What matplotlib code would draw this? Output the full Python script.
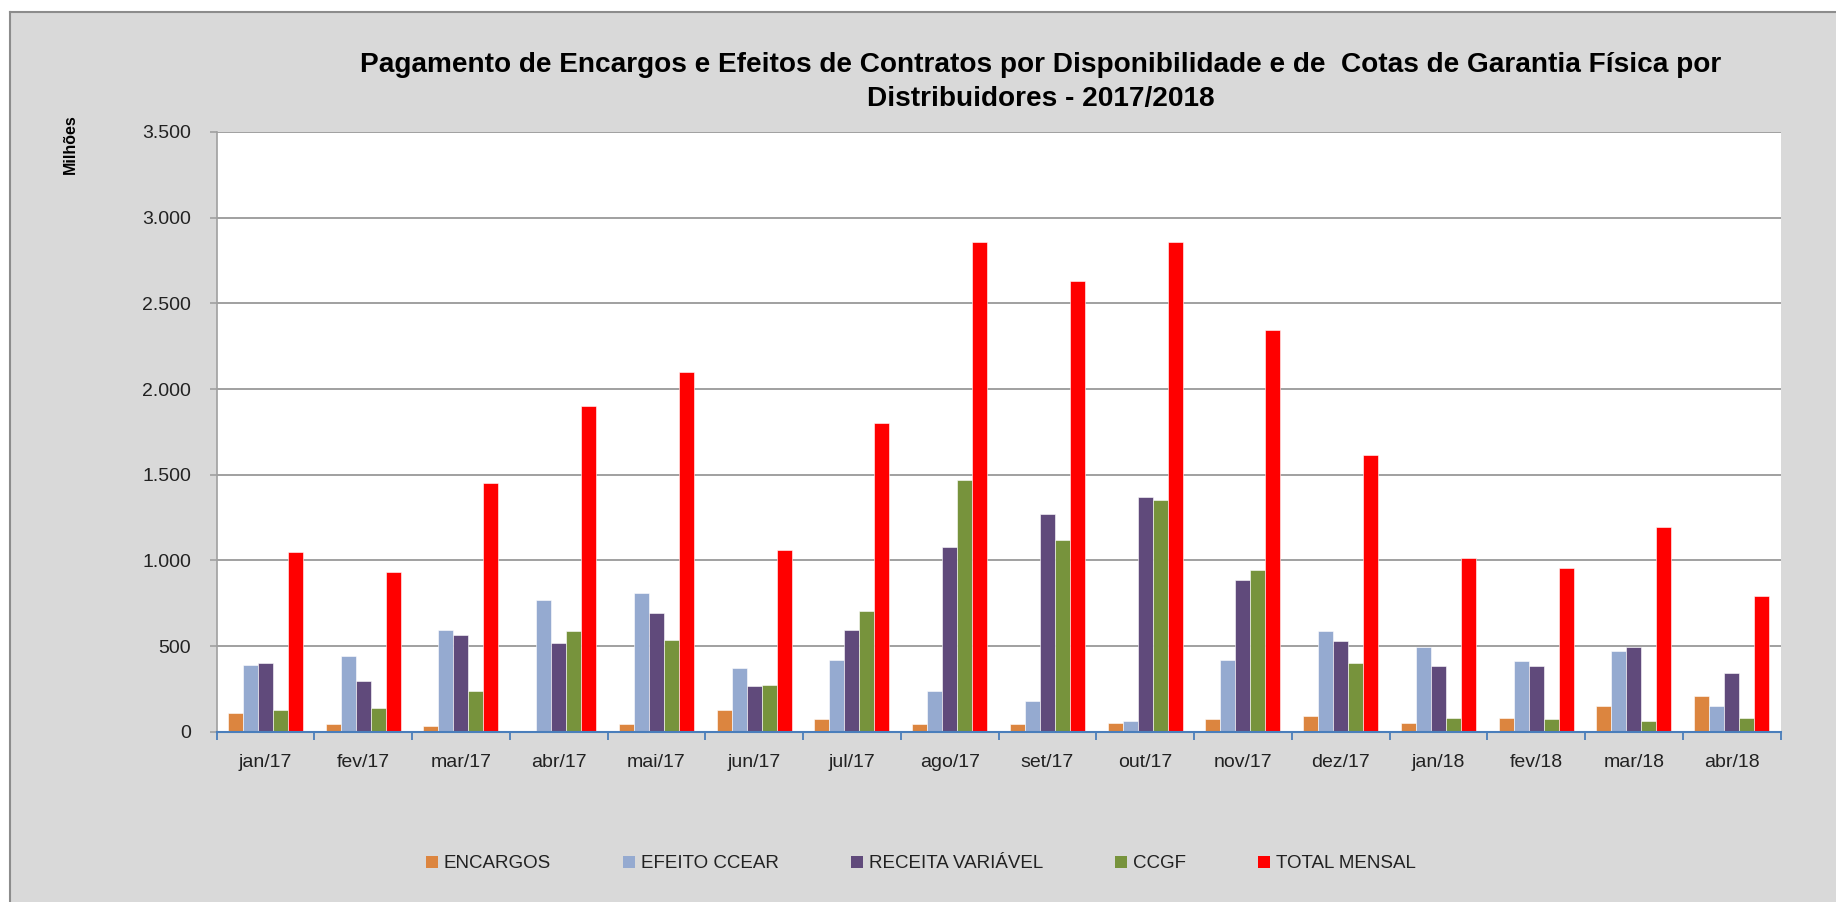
#!/usr/bin/env python
''' encargos e efeitos de contratos - distribuidores 2017/2018 '''
import matplotlib
matplotlib.use('Agg')
import matplotlib.pyplot as plt
from matplotlib import font_manager
from matplotlib.lines import Line2D
from matplotlib.patches import Rectangle, Patch
import numpy as np

months = ['jan/17', 'fev/17', 'mar/17', 'abr/17', 'mai/17', 'jun/17', 'jul/17',
          'ago/17', 'set/17', 'out/17', 'nov/17', 'dez/17', 'jan/18', 'fev/18',
          'mar/18', 'abr/18']
encargos = [109, 43, 33, 0, 43, 128, 72, 43, 43, 51, 72, 91, 51, 82, 150, 206]
efeito_ccear = [391, 440, 595, 768, 807, 372, 420, 236, 177, 61, 420, 586, 492,
                411, 469, 150]
receita_variavel = [399, 294, 566, 516, 691, 265, 595, 1079, 1272, 1371, 885,
                    527, 381, 381, 496, 342]
ccgf = [128, 138, 236, 586, 535, 274, 702, 1467, 1118, 1352, 943, 399, 82, 72,
        61, 82]
total_mensal = [1050, 933, 1449, 1900, 2099, 1060, 1799, 2858, 2632, 2858, 2345,
                1614, 1011, 953, 1196, 790]
series_names = ['ENCARGOS', 'EFEITO CCEAR', 'RECEITA VARIÁVEL', 'CCGF',
                'TOTAL MENSAL']
y_ticks = [0, 500, 1000, 1500, 2000, 2500, 3000, 3500]

COLORS = ['#DC853F', '#95AAD0', '#604A7B', '#77933C', '#FF0000']
BG = '#D9D9D9'

available = {f.name for f in font_manager.fontManager.ttflist}
narrow = 'Liberation Sans Narrow' if 'Liberation Sans Narrow' in available else 'Liberation Sans'
plt.rcParams['font.family'] = [narrow, 'DejaVu Sans']

if __name__ == '__main__':
    W, H = 1836, 902
    fig = plt.figure(figsize=(W / 100, H / 100), dpi=100)
    fig.patch.set_facecolor('white')

    # gray chart area with border on top and left
    fig.add_artist(Rectangle((10 / W, 0), 1, 1 - 12 / H, transform=fig.transFigure,
                             facecolor=BG, edgecolor='none', zorder=-10))
    fig.add_artist(Line2D([10 / W, 1], [1 - 12 / H, 1 - 12 / H],
                          transform=fig.transFigure, color='#8C8C8C', lw=1.5))
    fig.add_artist(Line2D([10 / W, 10 / W], [0, 1 - 12 / H],
                          transform=fig.transFigure, color='#8C8C8C', lw=1.5))

    left, right = 216.6 / W, 1780.5 / W
    bottom, top = 1 - 731.7 / H, 1 - 132 / H
    ax = fig.add_axes([left, bottom, right - left, top - bottom])
    ax.set_facecolor('white')

    x = np.arange(len(months))
    width = 0.1535
    data = [encargos, efeito_ccear, receita_variavel, ccgf, total_mensal]
    for i, (vals, color) in enumerate(zip(data, COLORS)):
        ax.bar(x + (i - 2) * width, vals, width, color=color, edgecolor='white',
               linewidth=0.4, zorder=3)

    ax.set_xlim(-0.5, len(months) - 0.5)
    ax.set_ylim(0, 3500)
    ax.set_yticks(y_ticks)
    ax.set_yticklabels(['{:,}'.format(v).replace(',', '.') for v in y_ticks],
                       fontsize=14, color='#222222')
    ax.yaxis.grid(True, color='#A0A0A0', lw=1.4, zorder=0)
    ax.set_axisbelow(True)

    ax.set_xticks(x)
    ax.set_xticklabels(months, fontsize=14, color='#222222')
    ax.set_xticks(np.arange(len(months) + 1) - 0.5, minor=True)
    ax.tick_params(axis='x', which='major', length=0, pad=16)
    ax.tick_params(axis='x', which='minor', length=6, width=1.3, color='#4A7EBB',
                   direction='out')
    ax.tick_params(axis='y', length=5, width=1.2, color='#A0A0A0', pad=13.5)

    for side in ['top', 'right']:
        ax.spines[side].set_visible(False)
    ax.spines['left'].set_color('#A0A0A0')
    ax.spines['left'].set_linewidth(1.2)
    ax.spines['bottom'].set_color('#4A7EBB')
    ax.spines['bottom'].set_linewidth(1.5)
    ax.spines['bottom'].set_zorder(4)

    fig.text(1041 / W, 1 - 82 / H,
             'Pagamento de Encargos e Efeitos de Contratos por Disponibilidade '
             'e de  Cotas de Garantia Física por\nDistribuidores - 2017/2018',
             ha='center', va='center', multialignment='center', fontsize=20.2,
             fontweight='bold', linespacing=1.42)
    fig.text(70 / W, 1 - 144 / H, 'Milhões', rotation=90, ha='center',
             va='center', fontsize=11.5, fontweight='bold')

    handles = [Patch(facecolor=c, edgecolor='none') for c in COLORS]
    fig.legend(handles, series_names, loc='center', ncol=5,
               bbox_to_anchor=(921 / W, 1 - 864 / H), frameon=False,
               fontsize=13.5, handlelength=0.64, handleheight=0.64,
               handletextpad=0.32, columnspacing=3.84, labelcolor='#222222')

    plt.savefig('out.png', dpi=100, facecolor=fig.get_facecolor())
